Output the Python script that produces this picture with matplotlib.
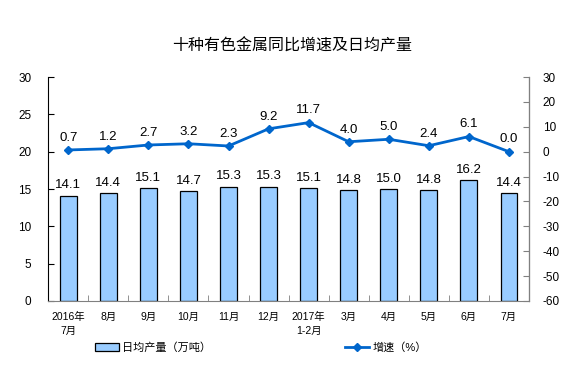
import numpy as np
import matplotlib
matplotlib.use("Agg")
import matplotlib.pyplot as plt
from matplotlib.ticker import FixedLocator

plt.rcParams['font.family'] = ['Liberation Sans', 'Noto Sans CJK SC', 'DejaVu Sans']
plt.rcParams['axes.unicode_minus'] = False

months = ["2016年\n7月", "8月", "9月", "10月", "11月", "12月", "2017年\n1-2月",
          "3月", "4月", "5月", "6月", "7月"]
daily_output = [14.1, 14.4, 15.1, 14.7, 15.3, 15.3, 15.1, 14.8, 15.0, 14.8, 16.2, 14.4]
growth = [0.7, 1.2, 2.7, 3.2, 2.3, 9.2, 11.7, 4.0, 5.0, 2.4, 6.1, 0.0]

fig = plt.figure(figsize=(5.67, 3.78), dpi=100)
ax = fig.add_axes([0.085, 0.204, 0.848, 0.592])
ax2 = ax.twinx()

x = np.arange(len(months))
bars = ax.bar(x, daily_output, width=0.42, color='#99CCFF', edgecolor='black',
              linewidth=0.9, label='日均产量（万吨）', zorder=2)
line, = ax2.plot(x, growth, color='#0066CC', lw=2, marker='D', ms=4.5,
                 label='增速（%）', zorder=3)

ax.set_xlim(-0.5, len(months) - 0.5)
ax.set_ylim(0, 30)
ax.set_yticks(range(0, 31, 5))
ax2.set_ylim(-60, 30)
ax2.set_yticks(range(-60, 31, 10))

for b, v in zip(bars, daily_output):
    ax.text(b.get_x() + b.get_width() / 2, v + 0.6, f"{v:.1f}", ha='center',
            va='bottom', fontsize=9.5)
for xi, v in zip(x, growth):
    ax2.text(xi, v + 2.5, f"{v:.1f}", ha='center', va='bottom', fontsize=9.5)

ax.set_xticks(x)
ax.set_xticklabels(months, fontsize=7.5, linespacing=1.5)
ax.tick_params(axis='x', length=0, pad=8)
ax.xaxis.set_minor_locator(FixedLocator(np.arange(-0.5, len(months), 1)))
ax.tick_params(axis='x', which='minor', length=4, direction='in', color='#808080')
ax.tick_params(axis='y', labelsize=8.5, length=4, direction='in', pad=12)
ax2.tick_params(axis='y', labelsize=8.5, length=4, direction='in', color='#808080',
                pad=10)

for a in (ax, ax2):
    a.spines['top'].set_visible(False)
ax.spines['left'].set_color('black')
ax.spines['bottom'].set_color('#808080')
ax2.spines['left'].set_visible(False)
ax2.spines['bottom'].set_visible(False)
ax2.spines['right'].set_color('#808080')

fig.text(0.516, 0.88, "十种有色金属同比增速及日均产量", ha='center', va='center',
         fontsize=11.5, fontweight='medium')

fig.legend([bars, line], ['日均产量（万吨）', '增速（%）'], loc='center',
           bbox_to_anchor=(0.46, 0.08), ncol=2, frameon=False, fontsize=8,
           columnspacing=12, handlelength=2.2, handletextpad=0.3)

fig.savefig("out.png", dpi=100)
